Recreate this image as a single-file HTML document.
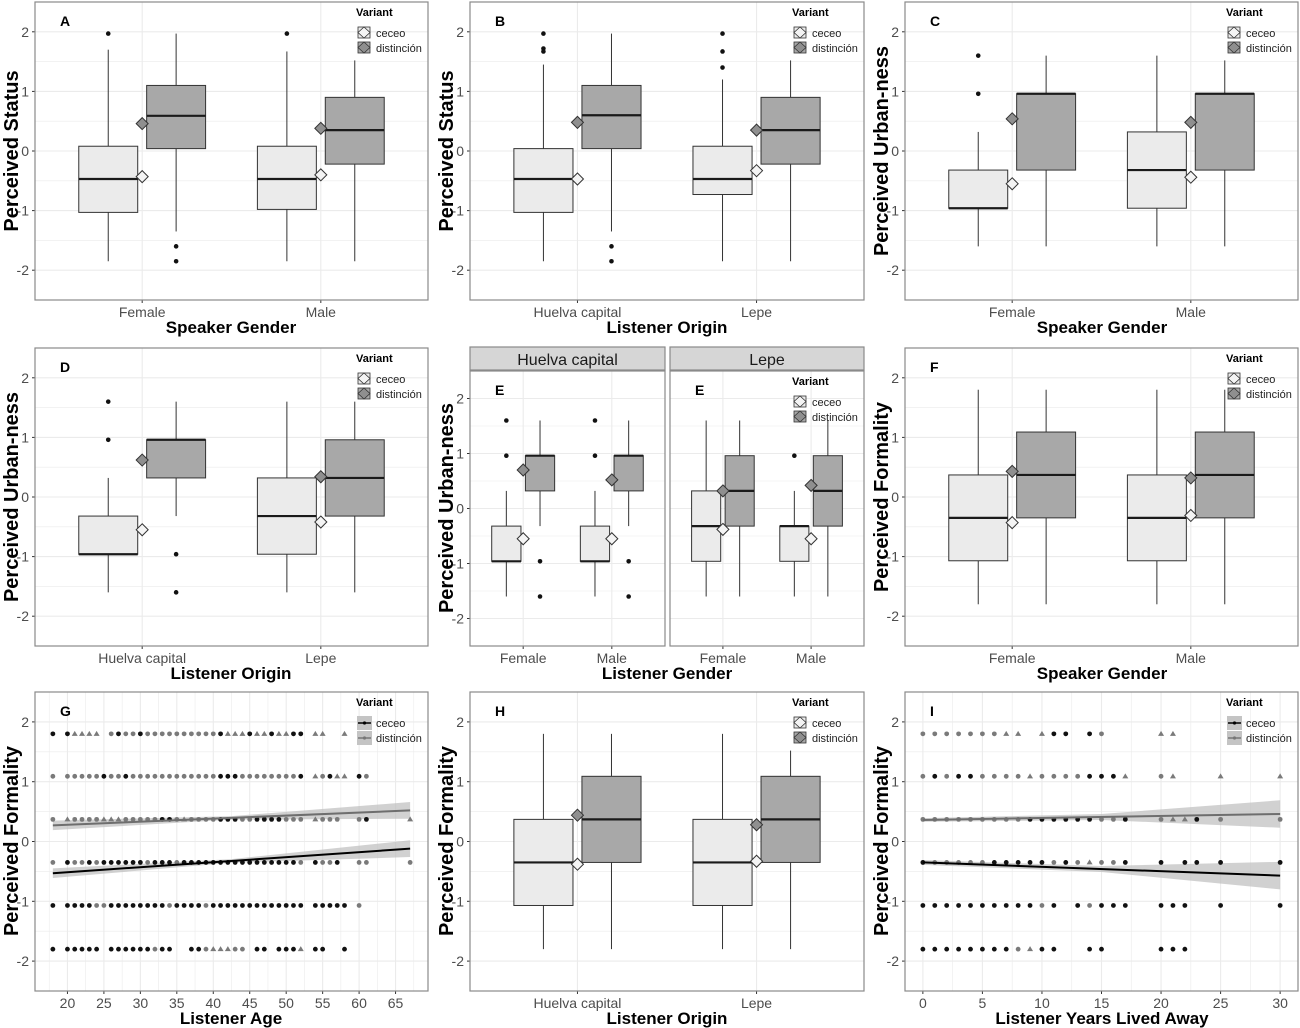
<!DOCTYPE html>
<html><head><meta charset="utf-8">
<style>
body{margin:0;background:#fff;}
svg{display:block;font-family:"Liberation Sans",Arial,sans-serif;}
</style></head>
<body>
<svg id="fig" width="1300" height="1028" viewBox="0 0 1300 1028" xmlns="http://www.w3.org/2000/svg"></svg>
<script>
// ---------- data ----------
// box stats: [q1, median, q3, whiskerLow, whiskerHigh, mean, outliers]
const catsGender = ["Female","Male"];
const catsOrigin = ["Huelva capital","Lepe"];
const boxA_ceceo = [[-1.03,-0.47,0.08,-1.85,1.7,-0.43,[1.97]],[-0.98,-0.47,0.08,-1.85,1.67,-0.40,[1.97]]];
const boxA_dist  = [[0.04,0.59,1.1,-1.35,1.97,0.46,[-1.6,-1.85]],[-0.22,0.35,0.9,-1.85,1.52,0.38,[]]];
const boxB_ceceo = [[-1.03,-0.47,0.04,-1.85,1.45,-0.47,[1.97,1.72,1.67]],[-0.73,-0.47,0.08,-1.85,1.2,-0.33,[1.4,1.67,1.97]]];
const boxB_dist  = [[0.04,0.6,1.1,-1.35,1.97,0.48,[-1.6,-1.85]],[-0.22,0.35,0.9,-1.85,1.52,0.35,[]]];
const boxC_ceceo = [[-0.96,-0.96,-0.32,-1.6,0.32,-0.55,[0.96,1.6]],[-0.96,-0.32,0.32,-1.6,1.6,-0.44,[]]];
const boxC_dist  = [[-0.32,0.96,0.96,-1.6,1.6,0.54,[]],[-0.32,0.96,0.96,-1.6,1.52,0.48,[]]];
const boxD_ceceo = [[-0.96,-0.96,-0.32,-1.6,0.32,-0.55,[0.96,1.6]],[-0.96,-0.32,0.32,-1.6,1.6,-0.42,[]]];
const boxD_dist  = [[0.32,0.96,0.96,-0.32,1.6,0.62,[-0.96,-1.6]],[-0.32,0.32,0.96,-1.6,1.6,0.34,[]]];
const boxE1_ceceo = [[-0.96,-0.96,-0.32,-1.6,0.32,-0.55,[0.96,1.6]],[-0.96,-0.96,-0.32,-1.6,0.32,-0.55,[0.96,1.6]]];
const boxE1_dist  = [[0.32,0.96,0.96,-0.32,1.6,0.7,[-0.96,-1.6]],[0.32,0.96,0.96,-0.32,1.6,0.52,[-0.96,-1.6]]];
const boxE2_ceceo = [[-0.96,-0.32,0.32,-1.6,1.6,-0.38,[]],[-0.96,-0.32,-0.32,-1.6,0.32,-0.55,[0.96]]];
const boxE2_dist  = [[-0.32,0.32,0.96,-1.6,1.6,0.32,[]],[-0.32,0.32,0.96,-1.6,1.6,0.42,[]]];
const boxF_ceceo = [[-1.07,-0.35,0.37,-1.8,1.8,-0.43,[]],[-1.07,-0.35,0.37,-1.8,1.8,-0.31,[]]];
const boxF_dist  = [[-0.35,0.37,1.09,-1.8,1.8,0.43,[]],[-0.35,0.37,1.09,-1.8,1.8,0.32,[]]];
const boxH_ceceo = [[-1.07,-0.35,0.37,-1.8,1.8,-0.38,[]],[-1.07,-0.35,0.37,-1.8,1.8,-0.33,[]]];
const boxH_dist  = [[-0.35,0.37,1.09,-1.8,1.8,0.44,[]],[-0.35,0.37,1.09,-1.8,1.52,0.28,[]]];

// scatter: level values and "x:type" lists (c=ceceo, d=distincion circle, t=distincion triangle)
const levels = [1.8,1.09,0.37,-0.35,-1.07,-1.8];
const ptsG = [
 "18c 20c 21t 22t 23t 24t 26d 27c 28d 29d 30c 31d 32d 33d 34d 35d 36d 37d 38d 39d 40d 41c 42t 43t 44t 45c 46t 47t 48c 49t 50t 51c 52c 54t 55t 58t",
 "18d 20d 21d 22d 23d 24d 25c 26d 27d 28c 29d 30d 31d 32d 33d 34d 35d 36d 37d 38d 39d 40d 41c 42c 43c 44d 45d 46d 47d 48d 49d 50d 51d 52c 54t 55d 56c 57t 58t 60c 61d",
 "18d 20t 21d 22d 23d 24d 25t 26t 27t 28d 29d 30d 31d 32d 33c 34c 35d 36t 37d 38d 39d 40d 41c 42c 43c 44d 45d 46c 47c 48c 49c 50d 51d 52d 54t 55d 56d 57d 60d 61c 67t",
 "18d 20c 21d 22d 23c 24d 25c 26c 27c 28c 29c 30c 31d 32c 33c 34c 35d 36c 37c 38c 39c 40c 41c 42c 43c 44c 45c 46c 47c 48c 49c 50c 51c 52d 54c 55d 56d 57c 60d 61d 67d",
 "18c 20c 21c 22c 23c 24d 25d 26c 27c 28c 29c 30c 31c 32c 33c 34d 35c 36c 37c 38c 39d 40c 41c 42c 43c 44c 45c 46c 47c 48c 49c 50c 51c 52c 54c 55c 56c 57c 58c 60d",
 "18c 20c 21c 22c 23c 24c 26c 27c 28c 29c 30c 31c 32d 33c 34c 37c 38c 39d 40t 41t 42t 43d 44d 46c 47c 49c 50c 51c 52t 54c 55c 58c"
];
const ptsI = [
 "0d 1d 2d 3d 4d 5d 6d 7t 8t 10t 11c 12c 14c 15d 20t 21t",
 "0d 1c 2d 3c 4c 5d 6d 7d 8d 9t 10d 11d 12d 13d 14c 15c 16c 17t 20d 21t 25t 30t",
 "0d 1d 2d 3d 4d 5d 6d 7d 8d 9c 10c 11c 12c 13c 14c 15d 16d 17c 20d 21t 22t 23c 25d 30d",
 "0c 1d 2d 3d 4d 5d 6c 7c 8c 9c 10c 11d 12c 13d 14t 15d 16d 17c 20c 22c 23c 25c 30c",
 "0c 1c 2c 3c 4c 5c 6c 7c 8c 9c 10d 11c 13c 14d 15c 16c 17c 20c 21c 22c 25c 30c",
 "0c 1c 2c 3c 4c 5c 6c 7c 8d 9t 10c 11c 14c 15c 20c 21c 22c"
];
// fitted lines: [y at xmin, y at xmax, band half-width at xmin, at mid, at xmax]
const fitG_ceceo = [-0.53,-0.12,0.08,0.03,0.14];
const fitG_dist  = [0.27,0.52,0.08,0.03,0.14];
const fitI_ceceo = [-0.35,-0.57,0.04,0.05,0.23];
const fitI_dist  = [0.36,0.46,0.03,0.05,0.23];
const xTicksG = [20,25,30,35,40,45,50,55,60,65];
const xTicksI = [0,5,10,15,20,25,30];
const yTicks = [-2,-1,0,1,2];

// ---------- drawing ----------
const NS="http://www.w3.org/2000/svg";
const svg=document.getElementById('fig');
function el(tag,attrs,parent){const e=document.createElementNS(NS,tag);for(const k in attrs)e.setAttribute(k,attrs[k]);(parent||svg).appendChild(e);return e;}
function txt(s,attrs,parent){const e=el('text',attrs,parent);e.textContent=s;return e;}

function panel(o){
  const g=el('g',{});
  
  
  const ys=v=>o.y0+(2.5-v)/5*(o.y1-o.y0);
  let xs;
  if(o.cats){const w=(o.x1-o.x0)/2.2; xs=i=>o.x0+(0.6+i)*w; o.bw=w;}
  else xs=v=>o.x0+(v-o.xmin)/(o.xmax-o.xmin)*(o.x1-o.x0);
  for(let v=-2.5;v<=2.5;v+=0.5){const y=ys(v);el('line',{x1:o.x0,x2:o.x1,y1:y,y2:y,stroke:'#ebebeb','stroke-width':Number.isInteger(v)?1.1:0.6},g);}
  if(o.cats){o.cats.forEach((c,i)=>{el('line',{x1:xs(i),x2:xs(i),y1:o.y0,y2:o.y1,stroke:'#ebebeb','stroke-width':1.1},g);});}
  else{const st=o.xt[1]-o.xt[0];for(let v=o.xt[0]-st/2;v<=o.xmax;v+=st/2){if(v<o.xmin)continue;el('line',{x1:xs(v),x2:xs(v),y1:o.y0,y2:o.y1,stroke:'#ebebeb','stroke-width':(Math.abs((v-o.xt[0])/st-Math.round((v-o.xt[0])/st))<1e-6)?1.1:0.6},g);}}
  if(o.yLabels!==false) yTicks.forEach(v=>{const y=ys(v);el('line',{x1:o.x0-3,x2:o.x0,y1:y,y2:y,stroke:'#333'},g);txt(String(v),{x:o.x0-6,y:y+5,'text-anchor':'end','font-size':14,fill:'#4d4d4d'},g);});
  if(o.cats) o.cats.forEach((c,i)=>{el('line',{x1:xs(i),x2:xs(i),y1:o.y1,y2:o.y1+3,stroke:'#333'},g);const t=txt(c,{x:xs(i),y:o.y1+17,'text-anchor':'middle','font-size':14,fill:'#4d4d4d'},g);});
  else o.xt.forEach(v=>{el('line',{x1:xs(v),x2:xs(v),y1:o.y1,y2:o.y1+3,stroke:'#333'},g);txt(String(v),{x:xs(v),y:o.y1+17,'text-anchor':'middle','font-size':14,fill:'#4d4d4d'},g);});
  if(o.boxes){
    const bw=o.bw*0.33, off=o.bw*0.19;
    o.boxes.forEach((series,si)=>{
      series.forEach((b,i)=>{
        const cx=xs(i)+(si===0?-off:off);
        const bg=el('g',{},g);
        
        
        el('line',{x1:cx,x2:cx,y1:ys(b[4]),y2:ys(b[2]),stroke:'#333','stroke-width':1},bg);
        el('line',{x1:cx,x2:cx,y1:ys(b[0]),y2:ys(b[3]),stroke:'#333','stroke-width':1},bg);
        el('rect',{x:cx-bw/2,y:ys(b[2]),width:bw,height:Math.max(ys(b[0])-ys(b[2]),0.5),fill:si===0?'#ebebeb':'#a8a8a8',stroke:'#333','stroke-width':1},bg);
        el('line',{x1:cx-bw/2,x2:cx+bw/2,y1:ys(b[1]),y2:ys(b[1]),stroke:'#1a1a1a','stroke-width':2.2},bg);
        b[6].forEach(v=>el('circle',{cx:cx,cy:ys(v),r:2.3,fill:'#111'},bg));
      });
    });
    o.boxes.forEach((series,si)=>series.forEach((b,i)=>{
      const cx=xs(i), cy=ys(b[5]), s=6;
      const d=el('polygon',{points:`${cx},${cy-s} ${cx+s},${cy} ${cx},${cy+s} ${cx-s},${cy}`,fill:si===0?'#f4f4f4':'#8f8f8f',stroke:'#333','stroke-width':1},g);
      
      
    }));
  }
  if(o.pts){
    o.fits.forEach((f,fi)=>{
      const xa=o.xmin2,xb=o.xmax2,xm=(xa+xb)/2;
      const ym=(f[0]+f[1])/2;
      const up=[[xa,f[0]+f[2]],[xm,ym+f[3]],[xb,f[1]+f[4]]], dn=[[xb,f[1]-f[4]],[xm,ym-f[3]],[xa,f[0]-f[2]]];
      const band=el('polygon',{points:up.concat(dn).map(p=>xs(p[0])+','+ys(p[1])).join(' '),fill:'#bdbdbd','fill-opacity':0.7},g);
      
      
    });
    o.pts.forEach((row,li)=>{
      row.split(' ').forEach(tok=>{
        const v=parseFloat(tok), t=tok.slice(-1), x=xs(v), y=ys(levels[li]);
        let m;
        if(t==='t') m=el('polygon',{points:`${x},${y-3} ${x+3},${y+2} ${x-3},${y+2}`,fill:'#7a7a7a'},g);
        else m=el('circle',{cx:x,cy:y,r:2.4,fill:t==='c'?'#111':'#7a7a7a'},g);
        
        
      });
    });
    o.fits.forEach((f,fi)=>{
      const l=el('line',{x1:xs(o.xmin2),x2:xs(o.xmax2),y1:ys(f[0]),y2:ys(f[1]),stroke:fi===0?'#000':'#6e6e6e','stroke-width':2},g);
      
      
    });
  }
  el('rect',{x:o.x0,y:o.y0,width:o.x1-o.x0,height:o.y1-o.y0,fill:'none',stroke:'#8a8a8a','stroke-width':1.2},g);
  if(o.letter){const t=txt(o.letter,{x:o.x0+25,y:o.y0+24,'font-size':14,'font-weight':'bold'},g);}
  if(o.legend){
    const lx=o.x1-72, ly=o.y0+14;
    const lg=el('g',{},g);
    
    
    txt('Variant',{x:lx,y:ly,'font-size':11,'font-weight':'bold'},lg);
    ['ceceo','distinción'].forEach((n,i)=>{
      const y=ly+17+i*15, kx=lx+8;
      if(o.legend==='box'){
        el('rect',{x:kx-6,y:y-6,width:12,height:11,fill:i===0?'#ebebeb':'#a8a8a8',stroke:'#333','stroke-width':0.8},lg);
        el('polygon',{points:`${kx},${y-6} ${kx+6},${y-0.5} ${kx},${y+5} ${kx-6},${y-0.5}`,fill:i===0?'#f4f4f4':'#8f8f8f',stroke:'#333','stroke-width':0.8},lg);
      } else {
        el('rect',{x:kx-7,y:y-7,width:15,height:14,fill:'#c4c4c4'},lg);
        el('line',{x1:kx-6,x2:kx+7,y1:y,y2:y,stroke:i===0?'#000':'#777','stroke-width':1.5},lg);
        el('circle',{cx:kx+0.5,cy:y,r:1.6,fill:i===0?'#000':'#777'},lg);
      }
      const t=txt(n,{x:lx+20,y:y+4,'font-size':11,fill:'#222'},lg);
      
      
    });
  }
  return {xs,ys};
}
function ytitle(s,x,cy){const t=txt(s,{x:0,y:0,transform:`translate(${x},${cy}) rotate(-90)`,'text-anchor':'middle','font-size':20,'font-weight':'bold'});}
function xtitle(s,cx,y){const t=txt(s,{x:cx,y:y,'text-anchor':'middle','font-size':17,'font-weight':'bold'});}

panel({name:'panel-a',x0:35,x1:428,y0:2,y1:300,cats:catsGender,boxes:[boxA_ceceo,boxA_dist],letter:'A',legend:'box'});
ytitle('Perceived Status',18,151);xtitle('Speaker Gender',231,333);
panel({name:'panel-b',x0:470,x1:864,y0:2,y1:300,cats:catsOrigin,boxes:[boxB_ceceo,boxB_dist],letter:'B',legend:'box'});
ytitle('Perceived Status',453,151);xtitle('Listener Origin',667,333);
panel({name:'panel-c',x0:905,x1:1298,y0:2,y1:300,cats:catsGender,boxes:[boxC_ceceo,boxC_dist],letter:'C',legend:'box'});
ytitle('Perceived Urban-ness',888,151);xtitle('Speaker Gender',1102,333);

panel({name:'panel-d',x0:35,x1:428,y0:348,y1:646,cats:catsOrigin,boxes:[boxD_ceceo,boxD_dist],letter:'D',legend:'box'});
ytitle('Perceived Urban-ness',18,497);xtitle('Listener Origin',231,679);
panel({name:'panel-e-huelva',x0:470,x1:665,y0:371,y1:646,cats:catsGender,boxes:[boxE1_ceceo,boxE1_dist],letter:'E'});
panel({name:'panel-e-lepe',x0:670,x1:864,y0:371,y1:646,cats:catsGender,boxes:[boxE2_ceceo,boxE2_dist],letter:'E',legend:'box',yLabels:false});
[[470,665,'Huelva capital'],[670,864,'Lepe']].forEach(s=>{
  const g=el('g',{});
  el('rect',{x:s[0],y:347,width:s[1]-s[0],height:23,fill:'#d6d6d6',stroke:'#8a8a8a','stroke-width':1.2},g);
  txt(s[2],{x:(s[0]+s[1])/2,y:365,'text-anchor':'middle','font-size':16,fill:'#1a1a1a'},g);
});
ytitle('Perceived Urban-ness',453,508);xtitle('Listener Gender',667,679);
panel({name:'panel-f',x0:905,x1:1298,y0:348,y1:646,cats:catsGender,boxes:[boxF_ceceo,boxF_dist],letter:'F',legend:'box'});
ytitle('Perceived Formality',888,497);xtitle('Speaker Gender',1102,679);

panel({name:'panel-g',x0:35,x1:428,y0:692,y1:991,xmin:15.55,xmax:69.45,xmin2:18,xmax2:67,xt:xTicksG,pts:ptsG,fits:[fitG_ceceo,fitG_dist],letter:'G',legend:'line'});
ytitle('Perceived Formality',18,841);xtitle('Listener Age',231,1024);
panel({name:'panel-h',x0:470,x1:864,y0:692,y1:991,cats:catsOrigin,boxes:[boxH_ceceo,boxH_dist],letter:'H',legend:'box'});
ytitle('Perceived Formality',453,841);xtitle('Listener Origin',667,1024);
panel({name:'panel-i',x0:905,x1:1298,y0:692,y1:991,xmin:-1.5,xmax:31.5,xmin2:0,xmax2:30,xt:xTicksI,pts:ptsI,fits:[fitI_ceceo,fitI_dist],letter:'I',legend:'line'});
ytitle('Perceived Formality',888,841);xtitle('Listener Years Lived Away',1102,1024);
</script>
</body></html>
